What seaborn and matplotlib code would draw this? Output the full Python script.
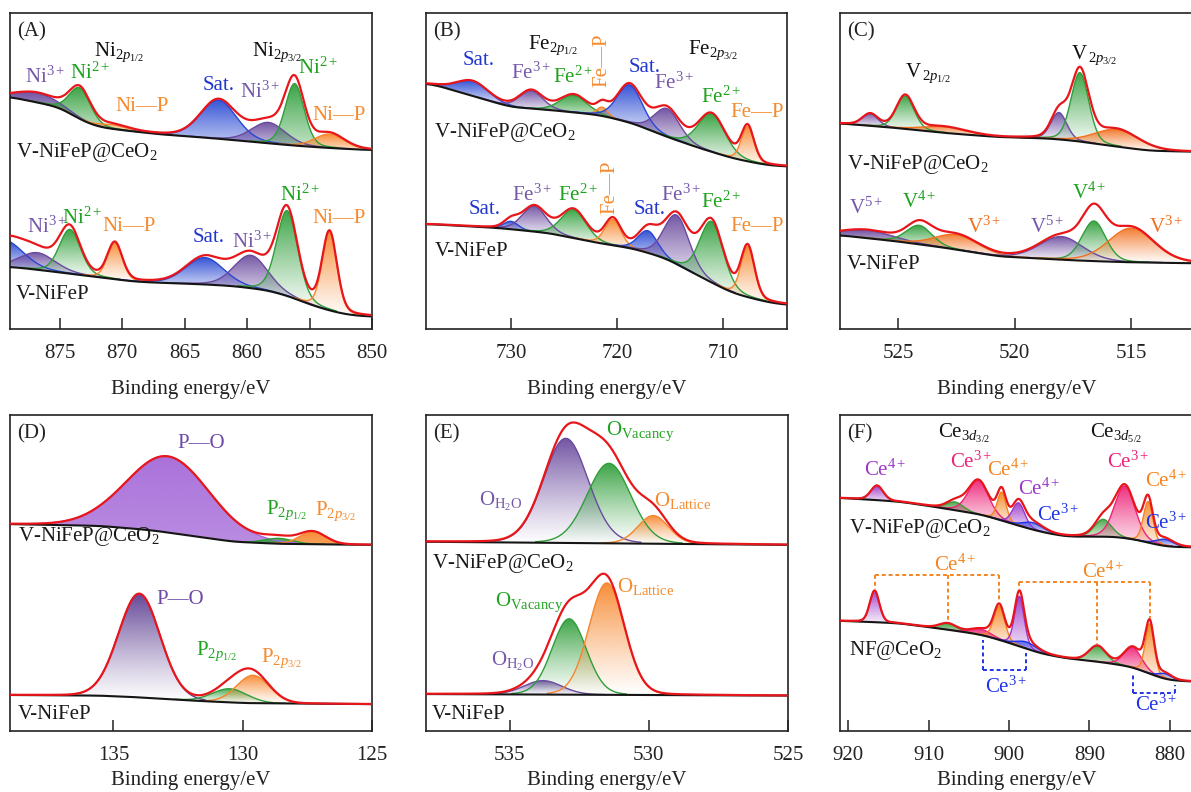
import numpy as np
import matplotlib
matplotlib.use('Agg')
import matplotlib.pyplot as plt
import seaborn as sns
from matplotlib.colors import to_rgb

# ------------------------------------------------------------------ data
# Panel A : Ni 2p
A_xlim = (879, 850)
A_ticks = [875, 870, 865, 860, 855, 850]
A_top_species = ['Ni3+', 'Ni2+', 'Ni-P', 'Sat.', 'Ni3+', 'Ni2+', 'Ni-P']
A_top_center = [876.8, 873.4, 870.7, 862.3, 858.3, 856.2, 853.4]
A_top_height = [3.0, 9.8, 1.3, 12.3, 6.6, 19.6, 4.4]
A_top_fwhm = [4.0, 2.0, 2.8, 3.4, 3.2, 1.8, 2.8]
A_top_bg_x = [879.0, 877.1, 875.0, 873.1, 871.8, 869.1, 866.4, 863.8, 861.1, 858.4, 855.8, 853.1, 850.0]
A_top_bg_y = [73.5, 71.9, 70.2, 65.6, 63.8, 62.5, 61.4, 60.7, 59.8, 58.8, 57.9, 57.2, 56.6]
A_bot_species = ['Sat.', 'Ni3+', 'Ni2+', 'Ni-P', 'Sat.', 'Ni3+', 'Ni2+', 'Ni-P']
A_bot_center = [879.5, 876.8, 874.2, 870.6, 863.4, 859.7, 856.8, 853.4]
A_bot_height = [8.5, 5.4, 14.0, 11.4, 8.5, 10.4, 27.0, 24.7]
A_bot_fwhm = [3.6, 3.4, 2.0, 1.4, 3.6, 3.2, 2.0, 1.4]
A_bot_bg_x = [879.0, 877.1, 874.4, 871.8, 869.1, 866.4, 863.8, 861.1, 858.4, 856.5, 854.9, 853.1, 851.8, 850.0]
A_bot_bg_y = [19.7, 18.9, 17.6, 16.4, 15.0, 14.5, 14.2, 13.6, 12.3, 10.2, 7.6, 5.5, 4.4, 3.9]

# Panel B : Fe 2p
B_xlim = (738, 704)
B_ticks = [730, 720, 710]
B_species = ['Sat.', 'Fe3+', 'Fe2+', 'Fe-P', 'Sat.', 'Fe3+', 'Fe2+', 'Fe-P']
B_top_center = [733.6, 728.1, 724.1, 721.4, 718.8, 715.3, 711.1, 707.7]
B_top_height = [4.7, 5.7, 5.4, 2.8, 12.0, 8.9, 12.0, 11.0]
B_top_fwhm = [3.5, 2.6, 3.0, 1.2, 2.8, 2.8, 3.0, 1.4]
B_top_bg_x = [737.6, 730.0, 726.3, 721.6, 718.5, 715.4, 712.2, 709.1, 706.0, 704.1]
B_top_bg_y = [77.7, 70.2, 69.3, 67.7, 65.1, 60.9, 57.2, 54.0, 51.9, 51.4]
B_bot_center = [730.0, 727.8, 724.1, 720.4, 717.1, 714.4, 711.1, 707.7]
B_bot_height = [2.5, 8.0, 8.9, 8.2, 7.0, 15.5, 19.3, 16.0]
B_bot_fwhm = [1.6, 2.7, 2.8, 1.8, 2.2, 2.8, 2.6, 1.5]
B_bot_bg_x = [737.6, 730.9, 726.3, 721.6, 718.5, 715.4, 712.2, 709.1, 706.0, 704.1]
B_bot_bg_y = [33.2, 31.9, 30.3, 27.1, 25.5, 22.4, 16.6, 11.3, 8.6, 7.6]

# Panel C : V 2p
C_xlim = (527.5, 512.3)
C_ticks = [525, 520, 515]
C_species = ['V5+', 'V4+', 'V3+', 'V5+', 'V4+', 'V3+']
C_top_center = [526.2, 524.7, 523.0, 518.1, 517.2, 515.6]
C_top_height = [3.8, 10.4, 1.9, 8.5, 21.8, 5.4]
C_top_fwhm = [0.8, 0.9, 2.2, 0.8, 0.9, 2.2]
C_top_bg_x = [527.5, 524.9, 522.8, 520.6, 518.5, 517.1, 515.6, 514.2, 512.3]
C_top_bg_y = [65.1, 63.5, 61.9, 60.7, 60.3, 59.3, 57.7, 56.4, 56.1]
C_bot_center = [526.3, 524.1, 522.5, 518.0, 516.6, 515.0]
C_bot_height = [2.5, 6.0, 4.7, 7.3, 12.7, 10.8]
C_bot_fwhm = [2.6, 1.3, 2.2, 2.2, 1.2, 2.3]
C_bot_bg_x = [527.5, 524.9, 522.8, 520.6, 519.2, 517.1, 515.0, 512.3]
C_bot_bg_y = [29.7, 27.6, 25.5, 22.9, 22.4, 21.6, 21.1, 20.8]

# Panel D : P 2p
D_xlim = (139, 125)
D_ticks = [135, 130, 125]
D_species = ['P-O', 'P2p1/2', 'P2p3/2']
D_top_center = [132.9, 128.6, 127.3]
D_top_height = [24.1, 1.7, 3.9]
D_top_fwhm = [3.8, 1.3, 1.2]
D_top_bg_x = [139.0, 135.5, 133.6, 131.7, 130.4, 128.5, 125.0]
D_top_bg_y = [65.5, 64.9, 63.6, 61.5, 59.9, 59.2, 58.9]
D_bot_center = [134.0, 130.5, 129.6]
D_bot_height = [32.8, 4.3, 8.8]
D_bot_fwhm = [1.9, 1.6, 1.5]
D_bot_bg_x = [139.0, 135.5, 133.6, 131.7, 129.8, 125.0]
D_bot_bg_y = [11.4, 11.2, 10.5, 9.5, 8.8, 8.5]

# Panel E : O 1s
E_xlim = (538, 525)
E_ticks = [535, 530, 525]
E_species = ['O-H2O', 'O-Vac', 'O-Lat']
E_top_center = [532.98, 531.43, 529.84]
E_top_height = [33.1, 25.3, 8.9]
E_top_fwhm = [1.9, 1.85, 1.3]
E_top_bg_x = [538.0, 531.5, 525.0]
E_top_bg_y = [59.9, 59.4, 58.9]
E_bot_center = [533.8, 532.86, 531.51]
E_bot_height = [4.4, 24.0, 35.4]
E_bot_fwhm = [1.6, 1.45, 1.5]
E_bot_bg_x = [538.0, 525.0]
E_bot_bg_y = [11.7, 11.2]

# Panel F : Ce 3d
F_xlim = (921, 877)
F_ticks = [920, 910, 900, 890, 880]
F_species = ["u'''", "u''", "u'", "u", "v'''", "u0", "v''", "v'", "v", "v0"]
F_top_center = [916.4, 906.7, 903.8, 900.9, 898.8, 897.0, 888.3, 885.6, 882.7, 880.6]
F_top_height = [4.6, 2.6, 10.7, 9.0, 7.2, 2.2, 5.5, 16.5, 13.0, 2.1]
F_top_fwhm = [1.8, 2.5, 3.0, 1.3, 1.8, 3.0, 2.5, 3.0, 1.4, 2.5]
F_top_bg_x = [921.0, 913.6, 909.4, 903.2, 899.1, 896.2, 892.9, 886.7, 883.8, 882.1, 880.4, 877.0]
F_top_bg_y = [73.8, 72.6, 71.0, 68.4, 65.2, 63.1, 61.5, 61.5, 60.4, 59.2, 58.3, 58.1]
F_bot_center = [916.7, 907.6, 903.4, 901.2, 898.7, 897.8, 889.0, 884.6, 882.5, 880.6]
F_bot_height = [10.0, 2.0, 1.8, 10.7, 15.8, 2.1, 5.0, 6.4, 15.8, 1.6]
F_bot_fwhm = [1.4, 2.5, 3.0, 1.6, 1.4, 3.0, 2.5, 2.6, 1.3, 2.0]
F_bot_bg_x = [921.0, 913.6, 907.4, 903.2, 899.1, 896.2, 892.9, 888.8, 884.6, 882.1, 880.4, 877.0]
F_bot_bg_y = [34.9, 34.1, 32.0, 30.4, 27.2, 24.6, 23.0, 21.9, 20.3, 17.7, 16.1, 15.6]

# ------------------------------------------------------------------ style
PUR, GRN, ORG, BLU = '#6A4A9E', '#2F9E3A', '#F7862B', '#2747D3'
T_PUR, T_GRN, T_ORG, T_BLU = '#7658AA', '#1FA31F', '#F58A2E', '#2236D0'
F_PUR, F_PNK, F_ORG, F_GRN, F_BLU = '#9C36CA', '#EE2277', '#F5841F', '#3A9E3A', '#1F34E6'
RED = '#E8161B'

cmap_A = {'Ni3+': PUR, 'Ni2+': GRN, 'Ni-P': ORG, 'Sat.': BLU}
cmap_B = {'Fe3+': PUR, 'Fe2+': GRN, 'Fe-P': ORG, 'Sat.': BLU}
cmap_C = {'V5+': PUR, 'V4+': GRN, 'V3+': '#F2701E'}
cmap_Dt = {'P-O': '#A468D8', 'P2p1/2': GRN, 'P2p3/2': ORG}
cmap_Db = {'P-O': '#5B3C91', 'P2p1/2': GRN, 'P2p3/2': ORG}
cmap_E = {'O-H2O': PUR, 'O-Vac': GRN, 'O-Lat': ORG}
cmap_F = {"u'''": F_PUR, "v'''": F_PUR, "u''": F_GRN, "v''": F_GRN,
          "u'": F_PNK, "v'": F_PNK, "u": F_ORG, "v": F_ORG, "u0": F_BLU, "v0": F_BLU}

sns.set_theme(style='white')
plt.rcParams['font.family'] = ['Liberation Serif', 'DejaVu Serif']
plt.rcParams['mathtext.fontset'] = 'custom'
plt.rcParams['mathtext.rm'] = 'Liberation Serif'
plt.rcParams['mathtext.it'] = 'Liberation Serif:italic'
plt.rcParams['mathtext.bf'] = 'Liberation Serif:bold'
plt.rcParams['axes.edgecolor'] = '#222222'
plt.rcParams['axes.linewidth'] = 1.2

FS = 15


def pv(x, c, h, w, eta):
    u = (x - c) / w
    return h * ((1 - eta) * np.exp(-4 * np.log(2) * u ** 2) + eta / (1 + 4 * u ** 2))


def baseline(x, kx, ky):
    kx = np.asarray(kx, float)
    ky = np.asarray(ky, float)
    o = np.argsort(kx)
    yl = np.interp(x, kx[o], ky[o])
    dx = x[1] - x[0]
    sig = 0.025 * (x[-1] - x[0]) / dx
    n = int(4 * sig)
    k = np.exp(-0.5 * (np.arange(-n, n + 1) / sig) ** 2)
    k /= k.sum()
    pad = np.concatenate([np.full(n, yl[0]), yl, np.full(n, yl[-1])])
    return np.convolve(pad, k, mode='valid')


def draw_spectrum(ax, xlim, species, centers, heights, fwhms, bgx, bgy, cmap,
                  eta=0.2, a_top=0.95, a_bot=0.12):
    x = np.linspace(min(xlim), max(xlim), 1600)
    comps = [pv(x, c, h, w, eta) for c, h, w in zip(centers, heights, fwhms)]
    total = np.sum(comps, axis=0)
    bg = baseline(x, bgx, bgy)
    for k, (sp, comp) in enumerate(zip(species, comps)):
        col = cmap[sp]
        mask = comp > 0.012 * comp.max()
        xs, lo, hi = x[mask], bg[mask], bg[mask] + comp[mask]
        poly = ax.fill_between(xs, lo, hi, facecolor='none', edgecolor='none')
        n = 256
        rgba = np.zeros((n, 1, 4))
        rgba[..., :3] = to_rgb(col)
        rgba[:, 0, 3] = np.linspace(a_bot, a_top, n) ** 1.2
        im = ax.imshow(rgba, extent=[xs.min(), xs.max(), lo.min(), hi.max()],
                       origin='lower', aspect='auto', interpolation='bilinear',
                       zorder=1 + 0.01 * k)
        im.set_clip_path(poly.get_paths()[0], poly.get_transform())
        ax.plot(xs, hi, color=col, lw=1.0, zorder=2)
    sns.lineplot(x=x, y=bg, color='#151515', lw=1.5, ax=ax, zorder=3)
    sns.lineplot(x=x, y=bg + total, color=RED, lw=1.6, ax=ax, zorder=4)
    return x, bg, bg + total


def setup(ax, xlim, ticks, letter, lpad=12):
    ax.set_xlim(*xlim)
    ax.set_ylim(0, 100)
    ax.set_yticks([])
    ax.set_xticks(ticks)
    ax.set_xticklabels([str(t) for t in ticks])
    ax.tick_params(axis='x', bottom=True, direction='in', length=8, width=1.1,
                   pad=11, labelsize=FS, colors='#222222', labelcolor='#222222')
    ax.set_xlabel('Binding energy/eV', fontsize=FS, labelpad=lpad, color='#222222')
    ax.set_ylabel('')
    ax.text(0.02, 0.94, letter, transform=ax.transAxes, fontsize=FS,
            ha='left', va='center', color='#222222')
    for s in ax.spines.values():
        s.set_visible(True)


def labels(ax, items, fs=FS):
    for it in items:
        txt, x, y, col = it[:4]
        rot = it[4] if len(it) > 4 else 0
        ax.text(x, y, txt, color=col, fontsize=fs, ha='center', va='center',
                rotation=rot, zorder=6)


def sample(ax, x, y, txt):
    ax.text(x, y, txt, fontsize=FS, ha='left', va='center', color='#1a1a1a', zorder=6)


fig = plt.figure(figsize=(11.91, 7.92), dpi=100)
W, H = 1191.0, 792.0
def axes_px(l, r, t, b):
    return fig.add_axes([l / W, (H - b) / H, (r - l) / W, (b - t) / H])

axA = axes_px(10, 372, 13, 329)
axB = axes_px(426, 787, 13, 329)
axC = axes_px(840, 1194, 13, 329)
axD = axes_px(10, 372, 415, 731)
axE = axes_px(426, 788, 415, 731)
axF = axes_px(840, 1194, 415, 731)

# ---------------- A
draw_spectrum(axA, A_xlim, A_top_species, A_top_center, A_top_height, A_top_fwhm, A_top_bg_x, A_top_bg_y, cmap_A, a_bot=0.35)
draw_spectrum(axA, A_xlim, A_bot_species, A_bot_center, A_bot_height, A_bot_fwhm, A_bot_bg_x, A_bot_bg_y, cmap_A, a_bot=0.05)
setup(axA, A_xlim, A_ticks, '(A)')
labels(axA, [(r'Ni$_{2p_{1/2}}$', 870.3, 87.7, '#111111'), (r'Ni$_{2p_{3/2}}$', 857.6, 87.7, '#111111'),
             (r'Ni$^{3+}$', 876.2, 79.7, T_PUR), (r'Ni$^{2+}$', 872.6, 81.0, T_GRN),
             ('Ni—P', 868.4, 70.3, T_ORG), ('Sat.', 862.3, 77.2, T_BLU),
             (r'Ni$^{3+}$', 859.0, 75.0, T_PUR), (r'Ni$^{2+}$', 854.3, 82.6, T_GRN),
             ('Ni—P', 852.6, 67.7, T_ORG),
             (r'Ni$^{3+}$', 876.0, 32.3, T_PUR), (r'Ni$^{2+}$', 873.2, 35.0, T_GRN),
             ('Ni—P', 869.5, 32.3, T_ORG), ('Sat.', 863.1, 28.8, T_BLU),
             (r'Ni$^{3+}$', 859.6, 27.5, T_PUR), (r'Ni$^{2+}$', 855.8, 42.4, T_GRN),
             ('Ni—P', 852.6, 35.0, T_ORG)])
sample(axA, 878.5, 55.7, r'V-NiFeP@CeO$_2$')
sample(axA, 878.5, 10.8, 'V-NiFeP')

# ---------------- B
draw_spectrum(axB, B_xlim, B_species, B_top_center, B_top_height, B_top_fwhm, B_top_bg_x, B_top_bg_y, cmap_B, a_bot=0.08)
draw_spectrum(axB, B_xlim, B_species, B_bot_center, B_bot_height, B_bot_fwhm, B_bot_bg_x, B_bot_bg_y, cmap_B, a_bot=0.05)
setup(axB, B_xlim, B_ticks, '(B)')
labels(axB, [(r'Fe$_{2p_{1/2}}$', 726.0, 89.9, '#111111'), (r'Fe$_{2p_{3/2}}$', 711.0, 88.3, '#111111'),
             ('Sat.', 733.0, 85.1, T_BLU), (r'Fe$^{3+}$', 728.1, 81.0, T_PUR),
             (r'Fe$^{2+}$', 724.2, 79.7, T_GRN), ('Fe—P', 721.4, 85.1, T_ORG, 90),
             ('Sat.', 717.4, 82.6, T_BLU), (r'Fe$^{3+}$', 714.6, 77.8, T_PUR),
             (r'Fe$^{2+}$', 710.2, 73.4, T_GRN), ('Fe—P', 706.8, 68.4, T_ORG),
             ('Sat.', 732.5, 37.7, T_BLU), (r'Fe$^{3+}$', 728.0, 42.4, T_PUR),
             (r'Fe$^{2+}$', 723.7, 42.4, T_GRN), ('Fe—P', 720.7, 44.9, T_ORG, 90),
             ('Sat.', 716.9, 37.7, T_BLU), (r'Fe$^{3+}$', 714.0, 42.4, T_PUR),
             (r'Fe$^{2+}$', 710.2, 40.2, T_GRN), ('Fe—P', 706.8, 32.3, T_ORG)])
sample(axB, 737.2, 62.3, r'V-NiFeP@CeO$_2$')
sample(axB, 737.2, 24.4, 'V-NiFeP')

# ---------------- C
draw_spectrum(axC, C_xlim, C_species, C_top_center, C_top_height, C_top_fwhm, C_top_bg_x, C_top_bg_y, cmap_C, a_bot=0.05)
draw_spectrum(axC, C_xlim, C_species, C_bot_center, C_bot_height, C_bot_fwhm, C_bot_bg_x, C_bot_bg_y, cmap_C, a_bot=0.05)
setup(axC, C_xlim, C_ticks, '(C)')
labels(axC, [(r'V$_{\,2p_{1/2}}$', 523.7, 81.0, '#111111'), (r'V$_{\,2p_{3/2}}$', 516.6, 86.7, '#111111'),
             (r'V$^{5+}$', 526.4, 38.3, T_PUR), (r'V$^{4+}$', 524.1, 40.2, T_GRN),
             (r'V$^{3+}$', 521.3, 32.3, '#F2701E'), (r'V$^{5+}$', 518.6, 32.3, T_PUR),
             (r'V$^{4+}$', 516.8, 43.0, T_GRN), (r'V$^{3+}$', 513.5, 32.3, '#F2701E')])
sample(axC, 527.2, 51.9, r'V-NiFeP@CeO$_2$')
sample(axC, 527.2, 20.3, 'V-NiFeP')

# ---------------- D
draw_spectrum(axD, D_xlim, D_species, D_top_center, D_top_height, D_top_fwhm, D_top_bg_x, D_top_bg_y, cmap_Dt, eta=0.05, a_top=0.95, a_bot=0.8)
draw_spectrum(axD, D_xlim, D_species, D_bot_center, D_bot_height, D_bot_fwhm, D_bot_bg_x, D_bot_bg_y, cmap_Db, eta=0.05, a_bot=0.02)
setup(axD, D_xlim, D_ticks, '(D)', lpad=4)
labels(axD, [('P—O', 131.6, 91.0, '#6C48A8'), (r'P$_{2p_{1/2}}$', 128.3, 70.0, T_GRN),
             (r'P$_{2p_{3/2}}$', 126.4, 69.4, T_ORG),
             ('P—O', 132.4, 41.5, '#6C48A8'), (r'P$_{2p_{1/2}}$', 131.0, 25.1, T_GRN),
             (r'P$_{2p_{3/2}}$', 128.5, 23.0, T_ORG)])
sample(axD, 138.7, 61.5, r'V-NiFeP@CeO$_2$')
sample(axD, 138.7, 5.1, 'V-NiFeP')

# ---------------- E
draw_spectrum(axE, E_xlim, E_species, E_top_center, E_top_height, E_top_fwhm, E_top_bg_x, E_top_bg_y, cmap_E, eta=0.08, a_bot=0.02)
draw_spectrum(axE, E_xlim, E_species, E_bot_center, E_bot_height, E_bot_fwhm, E_bot_bg_x, E_bot_bg_y, cmap_E, eta=0.08, a_bot=0.02)
setup(axE, E_xlim, E_ticks, '(E)', lpad=4)
labels(axE, [(r'O$_{\mathrm{H_2O}}$', 535.3, 72.6, T_PUR), (r'O$_{\mathrm{Vacancy}}$', 530.3, 94.7, T_GRN),
             (r'O$_{\mathrm{Lattice}}$', 528.8, 73.1, T_ORG),
             (r'O$_{\mathrm{Vacancy}}$', 534.3, 40.9, T_GRN), (r'O$_{\mathrm{Lattice}}$', 530.1, 45.7, T_ORG),
             (r'O$_{\mathrm{H_2O}}$', 534.9, 21.9, T_PUR)])
sample(axE, 537.8, 53.0, r'V-NiFeP@CeO$_2$')
sample(axE, 537.8, 5.1, 'V-NiFeP')

# ---------------- F
draw_spectrum(axF, F_xlim, F_species, F_top_center, F_top_height, F_top_fwhm, F_top_bg_x, F_top_bg_y, cmap_F, a_bot=0.15)
xf, bgf, envf = draw_spectrum(axF, F_xlim, F_species, F_bot_center, F_bot_height, F_bot_fwhm, F_bot_bg_x, F_bot_bg_y, cmap_F, a_bot=0.15)
setup(axF, F_xlim, F_ticks, '(F)', lpad=4)
labels(axF, [(r'Ce$_{3d_{3/2}}$', 905.5, 94.2, '#111111'), (r'Ce$_{3d_{5/2}}$', 886.7, 94.2, '#111111'),
             (r'Ce$^{4+}$', 915.4, 82.6, F_PUR), (r'Ce$^{3+}$', 904.7, 85.2, F_PNK),
             (r'Ce$^{4+}$', 900.1, 82.6, F_ORG), (r'Ce$^{4+}$', 896.2, 76.4, F_PUR),
             (r'Ce$^{3+}$', 893.9, 68.4, F_BLU), (r'Ce$^{3+}$', 885.2, 85.2, F_PNK),
             (r'Ce$^{4+}$', 880.4, 78.9, F_ORG), (r'Ce$^{3+}$', 880.4, 65.7, F_BLU),
             (r'Ce$^{4+}$', 906.7, 52.5, F_ORG), (r'Ce$^{4+}$', 888.3, 50.4, F_ORG),
             (r'Ce$^{3+}$', 900.3, 14.0, F_BLU), (r'Ce$^{3+}$', 881.7, 8.2, F_BLU)])
sample(axF, 919.9, 64.1, r'V-NiFeP@CeO$_2$')
sample(axF, 919.9, 25.6, r'NF@CeO$_2$')

# bracket annotations (Ce4+ satellites / Ce3+) tied to fitted peak positions
def bracket_down(ax, xs, level, ends, col):
    ax.plot([xs[0], xs[-1]], [level, level], ls=(0, (2, 1.5)), color=col, lw=1.4, zorder=5)
    for xv, ev in zip(xs, ends):
        ax.plot([xv, xv], [level, ev], ls=(0, (2, 1.5)), color=col, lw=1.4, zorder=5)

ce4_a = [F_bot_center[0], F_bot_center[1], F_bot_center[3]]
ce4_b = [F_bot_center[4], F_bot_center[6], F_bot_center[8]]
bracket_down(axF, ce4_a, 49.4, [np.interp(v, xf, envf) + 0.5 for v in ce4_a], F_ORG)
bracket_down(axF, ce4_b, 47.2, [np.interp(v, xf, envf) + 0.5 for v in ce4_b], F_ORG)
ce3_a = [903.2, 897.9]
ce3_b = [884.6, 879.4]
bracket_down(axF, ce3_a, 19.4, [np.interp(v, xf, bgf) - 1.5 for v in ce3_a], F_BLU)
bracket_down(axF, ce3_b, 12.0, [np.interp(v, xf, bgf) - 1.5 for v in ce3_b], F_BLU)

for ax, xl in [(axA, A_xlim), (axB, B_xlim), (axC, C_xlim), (axD, D_xlim), (axE, E_xlim), (axF, F_xlim)]:
    ax.set_xlim(*xl)
    ax.set_ylim(0, 100)

fig.savefig('out.png', dpi=100, facecolor='white')
